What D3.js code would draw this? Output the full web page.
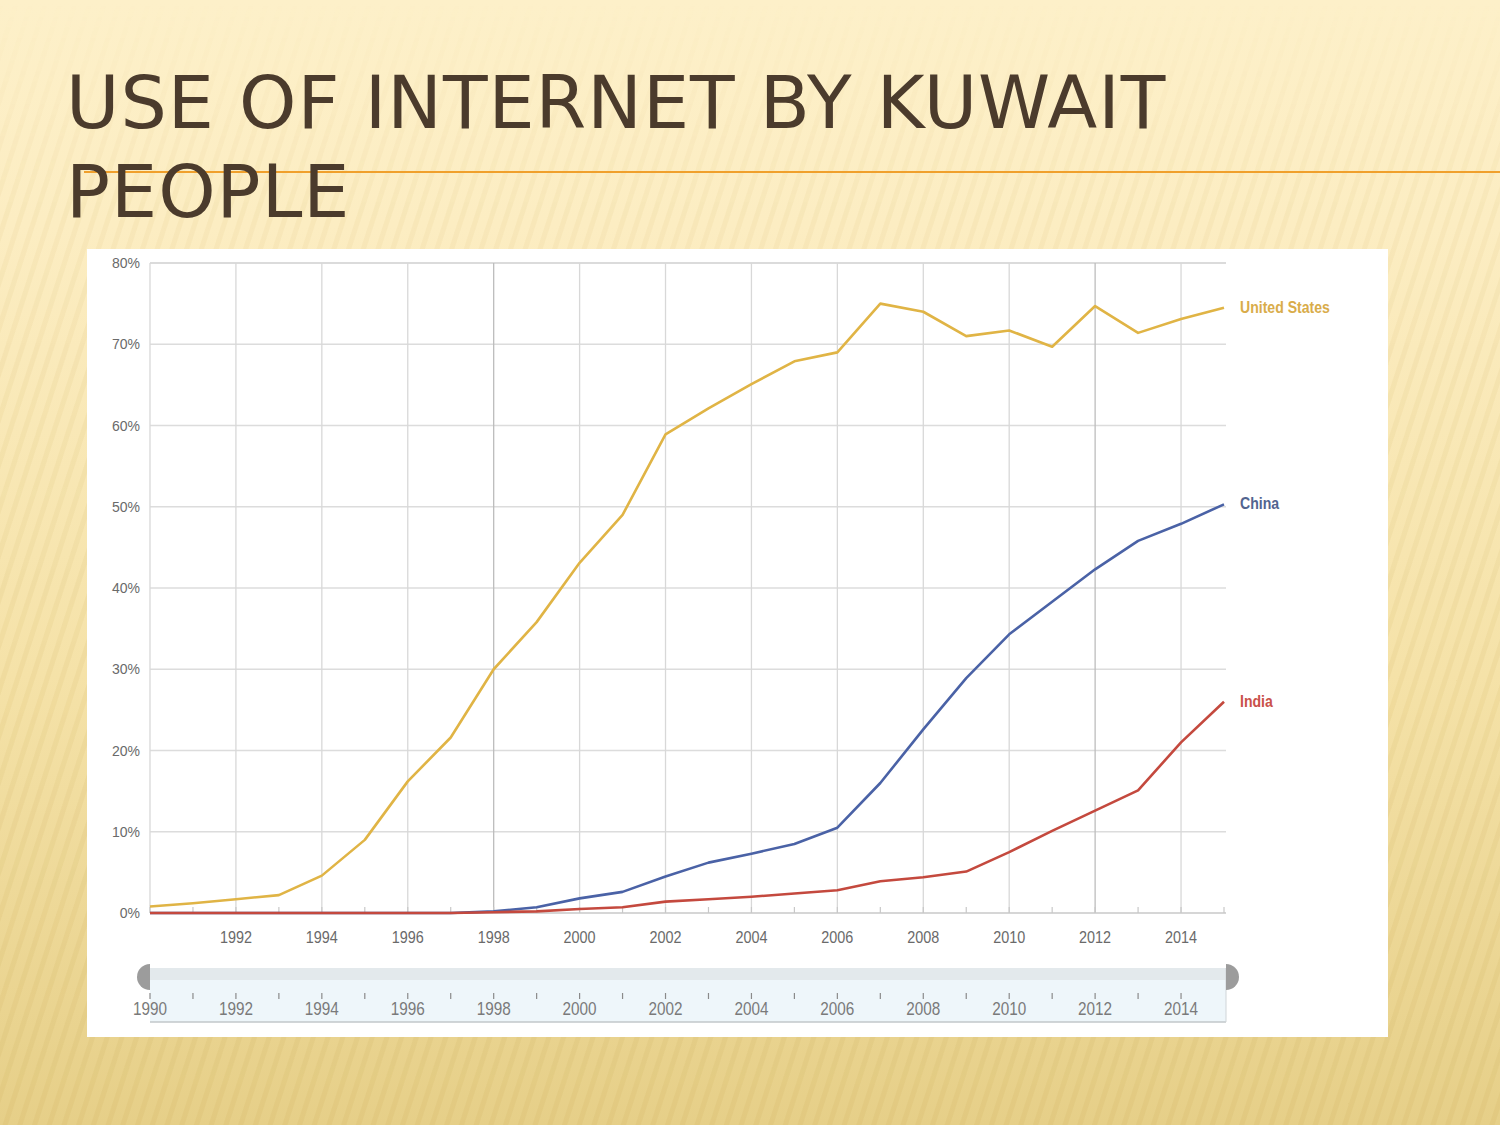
<!DOCTYPE html>
<html>
<head>
<meta charset="utf-8">
<script src="https://cdn.jsdelivr.net/npm/d3@7/dist/d3.min.js"></script>
<style>
html,body{margin:0;padding:0;background:#fdf0c8;}
svg{display:block;}
</style>
</head>
<body>
<svg id="chart" width="1500" height="1125"></svg>
<script>
// ---- data ----
const years = [1990,1991,1992,1993,1994,1995,1996,1997,1998,1999,2000,2001,2002,2003,2004,2005,2006,2007,2008,2009,2010,2011,2012,2013,2014,2015];
const unitedStates = [0.8,1.2,1.7,2.2,4.6,9.0,16.2,21.6,30.0,35.8,43.1,49.0,58.9,62.1,65.1,67.9,69.0,75.0,74.0,71.0,71.7,69.7,74.7,71.4,73.1,74.5];
const china        = [0,0,0,0,0,0,0,0,0.2,0.7,1.8,2.6,4.5,6.2,7.3,8.5,10.5,16.0,22.6,28.9,34.3,38.3,42.3,45.8,47.9,50.3];
const india        = [0,0,0,0,0,0,0,0,0.1,0.2,0.5,0.7,1.4,1.7,2.0,2.4,2.8,3.9,4.4,5.1,7.5,10.1,12.6,15.1,21.0,26.0];
const seriesNames  = ["United States","China","India"];
const yTicks = [0,10,20,30,40,50,60,70,80];
const xTickYears = [1992,1994,1996,1998,2000,2002,2004,2006,2008,2010,2012,2014];
const sliderYears = [1990,1992,1994,1996,1998,2000,2002,2004,2006,2008,2010,2012,2014];
const titleLines = ["USE OF INTERNET BY KUWAIT","PEOPLE"];

const svg = d3.select("#chart");
const defs = svg.append("defs");

// ---- background ----
const bg = defs.append("linearGradient").attr("id","bg").attr("x1",0).attr("y1",0).attr("x2",0).attr("y2",1);
bg.append("stop").attr("offset","0%").attr("stop-color","#fdf0c9");
bg.append("stop").attr("offset","20%").attr("stop-color","#fcedc2");
bg.append("stop").attr("offset","60%").attr("stop-color","#f5e2a8");
bg.append("stop").attr("offset","100%").attr("stop-color","#e6cf88");
svg.append("rect").attr("width",1500).attr("height",1125).attr("fill","url(#bg)");

const pat = defs.append("pattern").attr("id","stripes").attr("patternUnits","userSpaceOnUse")
  .attr("width",14).attr("height",14).attr("patternTransform","rotate(18)");
pat.append("rect").attr("width",5).attr("height",14).attr("fill","#c9a44a").attr("opacity",0.12);
const fade = defs.append("linearGradient").attr("id","fade").attr("x1",0).attr("y1",0).attr("x2",0).attr("y2",1);
fade.append("stop").attr("offset","0%").attr("stop-color","#fff").attr("stop-opacity",0);
fade.append("stop").attr("offset","18%").attr("stop-color","#fff").attr("stop-opacity",0.6);
fade.append("stop").attr("offset","100%").attr("stop-color","#fff").attr("stop-opacity",1);
const mask = defs.append("mask").attr("id","fadeMask");
mask.append("rect").attr("width",1500).attr("height",1125).attr("fill","url(#fade)");
svg.append("rect").attr("width",1500).attr("height",1125).attr("fill","url(#stripes)").attr("mask","url(#fadeMask)");

// ---- title ----
svg.append("line").attr("x1",84).attr("x2",1500).attr("y1",172).attr("y2",172)
  .attr("stroke","#f0a02c").attr("stroke-width",2);
svg.append("g").selectAll("text").data(titleLines).join("text")
  .attr("x",66).attr("y",(d,i)=>128+i*89)
  .attr("font-family","DejaVu Sans, sans-serif").attr("font-size",73)
  .attr("fill","#4b3b2c").attr("letter-spacing",1.0)
  .text(d=>d);

// ---- chart panel ----
svg.append("rect").attr("x",87).attr("y",249).attr("width",1301).attr("height",788).attr("fill","#ffffff");

const x = d3.scaleLinear().domain([1990,2015]).range([150,1224]);
const y = d3.scaleLinear().domain([0,80]).range([913,263]);
const font = "Liberation Sans, Arial, sans-serif";

// horizontal gridlines
svg.append("g").selectAll("line").data(yTicks.filter(d=>d>0)).join("line")
  .attr("x1",150).attr("x2",1226).attr("y1",d=>y(d)).attr("y2",d=>y(d))
  .attr("stroke",d=>d===80?"#cfcfcf":"#dcdcdc").attr("stroke-width",1.5);
// vertical gridlines
svg.append("g").selectAll("line").data([1990].concat(xTickYears)).join("line")
  .attr("x1",d=>x(d)).attr("x2",d=>x(d)).attr("y1",263).attr("y2",913)
  .attr("stroke",d=>(d===1998||d===2012)?"#bdbdbd":"#d8d8d8").attr("stroke-width",1.3);

// baseline + minor ticks
svg.append("line").attr("x1",150).attr("x2",1226).attr("y1",913).attr("y2",913)
  .attr("stroke","#c8c8c8").attr("stroke-width",1.5);
svg.append("g").selectAll("line").data(years).join("line")
  .attr("x1",d=>x(d)).attr("x2",d=>x(d)).attr("y1",907).attr("y2",913)
  .attr("stroke","#c8c8c8").attr("stroke-width",1.2);

// y labels
svg.append("g").selectAll("text").data(yTicks).join("text")
  .attr("x",140).attr("y",d=>y(d)+5).attr("text-anchor","end")
  .attr("font-family",font).attr("font-size",14).attr("fill","#6a6a6a")
  .text(d=>d+"%");
// x labels
svg.append("g").selectAll("text").data(xTickYears).join("text")
  .attr("x",d=>x(d)).attr("y",943).attr("text-anchor","middle")
  .attr("font-family",font).attr("font-size",16).attr("fill","#6a6a6a")
  .attr("transform",d=>`translate(${x(d)},0) scale(0.9,1) translate(${-x(d)},0)`)
  .text(d=>d);

// ---- lines ----
const colors = ["#e0b445","#4a62a6","#c4493e"];
const labelColors = ["#d9ac4a","#52648f","#c9514a"];
const data = [unitedStates, china, india];
const line = d3.line().x((d,i)=>x(years[i])).y(d=>y(d));
svg.append("g").selectAll("path").data(data).join("path")
  .attr("d",line).attr("fill","none")
  .attr("stroke",(d,i)=>colors[i]).attr("stroke-width",2.6).attr("stroke-linejoin","round");

svg.append("g").selectAll("text").data(seriesNames).join("text")
  .attr("x",1240).attr("y",(d,i)=>y(data[i][data[i].length-1])+5)
  .attr("font-family",font).attr("font-size",16).attr("font-weight","bold")
  .attr("fill",(d,i)=>labelColors[i])
  .attr("transform",`translate(1240,0) scale(0.88,1) translate(-1240,0)`)
  .text(d=>d);

// ---- range slider ----
svg.append("rect").attr("x",150).attr("y",968).attr("width",1076).attr("height",54).attr("fill","#eef6fa");
svg.append("rect").attr("x",150).attr("y",968).attr("width",1076).attr("height",12).attr("fill","#e3e9ec");
svg.append("line").attr("x1",150).attr("x2",1226).attr("y1",1022).attr("y2",1022).attr("stroke","#c2c7ca").attr("stroke-width",1.5);
svg.append("line").attr("x1",1226).attr("x2",1226).attr("y1",968).attr("y2",1022).attr("stroke","#d0d5d8").attr("stroke-width",1);
// handles
svg.append("path").attr("d",d3.arc()({innerRadius:0,outerRadius:13,startAngle:Math.PI,endAngle:2*Math.PI}))
  .attr("transform",`translate(${x(1990)},977)`).attr("fill","#9c9c9c");
svg.append("path").attr("d",d3.arc()({innerRadius:0,outerRadius:13,startAngle:0,endAngle:Math.PI}))
  .attr("transform",`translate(${x(2015)+2},977)`).attr("fill","#9c9c9c");
// slider ticks and labels
svg.append("g").selectAll("line").data(years.filter(d=>d<2015)).join("line")
  .attr("x1",d=>x(d)).attr("x2",d=>x(d)).attr("y1",993).attr("y2",999)
  .attr("stroke","#8a8a8a").attr("stroke-width",1.2);
svg.append("g").selectAll("text").data(sliderYears).join("text")
  .attr("x",d=>x(d)).attr("y",1015).attr("text-anchor","middle")
  .attr("font-family",font).attr("font-size",18).attr("fill","#7a7a7a")
  .attr("transform",d=>`translate(${x(d)},0) scale(0.85,1) translate(${-x(d)},0)`)
  .text(d=>d);
</script>
</body>
</html>
